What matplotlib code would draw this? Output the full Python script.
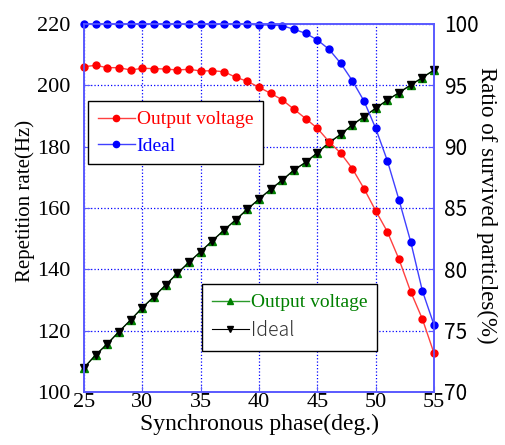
import numpy as np
import matplotlib
matplotlib.use('Agg')
import matplotlib.pyplot as plt

# synchronous phase (deg.)
phase = np.arange(25, 56)

# repetition rate (Hz), left axis
rate_output = [107.9, 112.1, 115.7, 119.7, 123.5, 127.5, 131.1, 134.9, 138.7, 142.3,
               145.8, 149.3, 152.8, 156.1, 159.6, 162.9, 166.1, 169.1, 172.4, 174.9,
               178.0, 181.3, 184.0, 187.1, 189.8, 192.5, 195.2, 197.6, 200.1, 202.5, 205.0]
rate_ideal = [107.9, 112.1, 115.7, 119.7, 123.5, 127.5, 131.1, 134.9, 138.7, 142.3,
              145.8, 149.3, 152.8, 156.1, 159.6, 162.9, 166.1, 169.1, 172.4, 174.9,
              178.0, 181.3, 184.0, 187.1, 189.8, 192.5, 195.2, 197.6, 200.1, 202.5, 205.0]

# ratio of survived particles (%), right axis
surv_output = [96.52, 96.63, 96.44, 96.44, 96.25, 96.39, 96.36, 96.33, 96.25, 96.31,
               96.17, 96.19, 96.11, 95.66, 95.33, 94.84, 94.35, 93.81, 93.05, 92.29,
               91.50, 90.41, 89.47, 88.21, 86.58, 84.78, 83.07, 80.82, 78.18, 75.96, 73.16]
surv_ideal = [100.0, 100.0, 100.0, 100.0, 100.0, 100.0, 100.0, 100.0, 100.0, 100.0,
              100.0, 100.0, 100.0, 100.0, 100.0, 99.92, 99.92, 99.86, 99.57, 99.24,
              98.70, 97.94, 96.80, 95.38, 93.72, 91.50, 88.86, 85.66, 82.26, 78.26, 75.47]

serif = 'Liberation Serif'
sans = ['Noto Sans CJK JP', 'DejaVu Sans']
spine_col = '#5a5aff'

fig = plt.figure(figsize=(5.05, 4.45), dpi=100)
ax = fig.add_axes([84/505, 1-392/445, 350/505, 368/445])
ax2 = ax.twinx()

# triangles -> left axis
l3, = ax.plot(phase, rate_output, '-', color='#2a9a2a', lw=1.0, marker='^', ms=5.5,
              mfc='#008000', mec='#008000', clip_on=False)
l4, = ax.plot(phase, rate_ideal, '-', color='black', lw=0.8, marker='v', ms=5.5,
              mfc='black', mec='black', clip_on=False)

# circles -> right axis
l1, = ax2.plot(phase, surv_output, '-', color='#ff4040', lw=1.0, marker='o', ms=5,
               mfc='#ff0000', mec='#ff0000', clip_on=False)
l2, = ax2.plot(phase, surv_ideal, '-', color='#4040ff', lw=1.0, marker='o', ms=5,
               mfc='#0000ff', mec='#0000ff', clip_on=False)

ax.set_xlim(25, 55)
ax.set_ylim(100, 220)
ax2.set_ylim(70, 100)
ax.set_xticks(np.arange(25, 56, 5))
ax.set_yticks(np.arange(100, 221, 20))
ax2.set_yticks(np.arange(70, 101, 5))

ax.grid(True, color='#0000ff', linestyle=':', linewidth=0.9)
for a in (ax, ax2):
    for s in a.spines.values():
        s.set_color(spine_col)
        s.set_linewidth(1.2)

ax.tick_params(axis='x', direction='in', colors=spine_col, labelcolor='black',
               length=4, labelsize=16, pad=1)
ax.tick_params(axis='y', direction='in', colors=spine_col, labelcolor='black',
               length=4, labelsize=16, pad=10)
ax2.tick_params(axis='y', direction='in', colors=spine_col, labelcolor='black',
                length=4, labelsize=15, pad=7)
for lab in ax.get_xticklabels() + ax.get_yticklabels():
    lab.set_family(serif)
for lab in ax2.get_yticklabels():
    lab.set_family(sans)

ax.set_xlabel('Synchronous phase(deg.)', family=serif, fontsize=17, labelpad=1)
ax.set_ylabel('Repetition rate(Hz)', family=serif, fontsize=15)
ax.yaxis.set_label_coords(35/505, 1-201/445, transform=fig.transFigure)
ax2.set_ylabel('Ratio of survived particles(%)', family=serif, fontsize=16.5,
               rotation=270, va='center')
ax2.yaxis.set_label_coords(487/505, 1-205/445, transform=fig.transFigure)

leg_kw = dict(loc='upper left', bbox_transform=fig.transFigure, borderaxespad=0,
              fancybox=False, edgecolor='black', framealpha=1,
              prop={'family': serif, 'size': 14}, handlelength=1.9,
              handletextpad=0.1, borderpad=0.5, labelspacing=0.45, markerscale=0.9)

leg1 = ax2.legend([l1, l2], ['Output voltage', 'Ideal'],
                  bbox_to_anchor=(88/505, 1-101/445), **leg_kw)
leg1.get_frame().set_linewidth(1.0)
for t, c in zip(leg1.get_texts(), ['#ff0000', '#0000ff']):
    t.set_color(c)
ax2.add_artist(leg1)

leg2 = ax2.legend([l3, l4], ['Output voltage', 'Ideal'],
                  bbox_to_anchor=(202/505, 1-284/445), **leg_kw)
leg2.get_frame().set_linewidth(1.0)
t1, t2 = leg2.get_texts()
t1.set_color('#008000')
t2.set_color('#333333')
t2.set_family(sans)
t2.set_fontweight('light')

fig.savefig('out.png', dpi=100)
